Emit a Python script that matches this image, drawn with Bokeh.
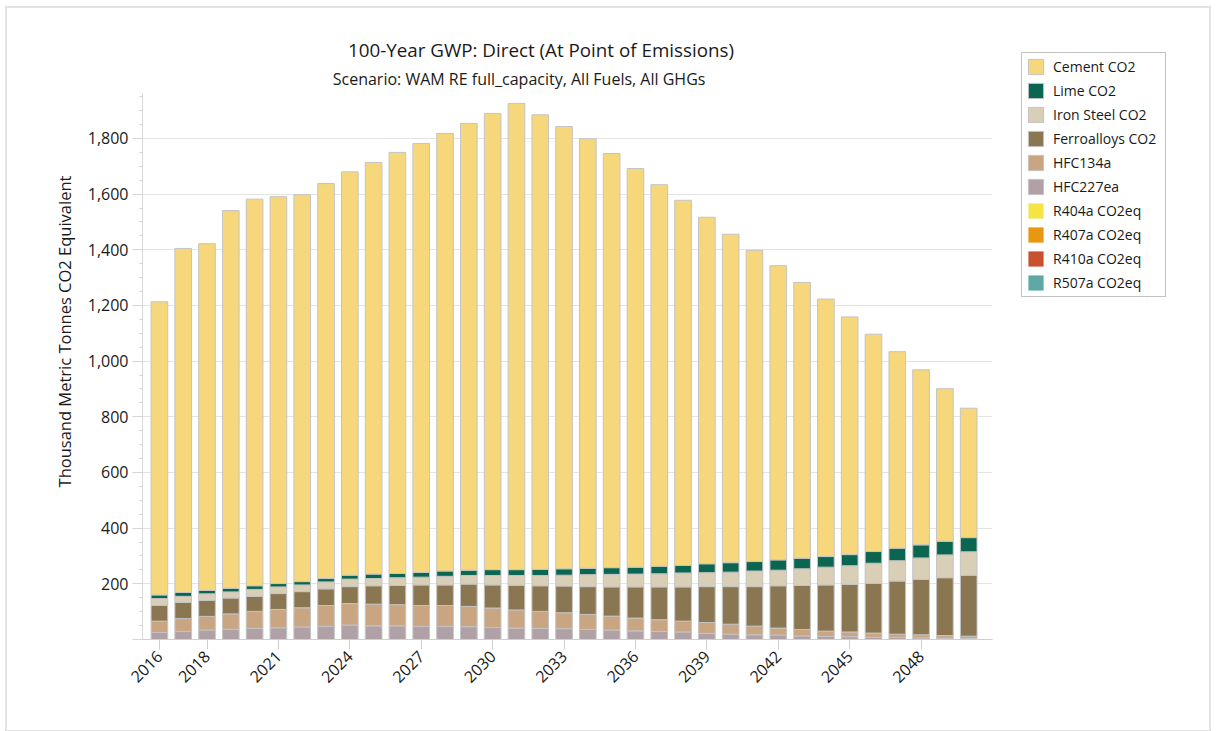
import math
from bokeh.plotting import figure
from bokeh.layouts import row
from bokeh.models import (ColumnDataSource, Range1d, FixedTicker, Legend, LegendItem,
                          Label, NumeralTickFormatter)
from bokeh.embed import file_html
from bokeh.resources import INLINE

# ---------------- data ----------------
years = list(range(2016, 2051))
hfc227ea = [25, 29, 34, 37, 40, 42, 45, 47, 52, 49, 49, 47, 47, 46, 43, 41, 40, 39,
            36, 34, 31, 29, 27, 22, 19, 17, 16, 13, 11, 10, 8, 7, 6, 5, 4]
hfc134a = [41, 46, 49, 55, 61, 66, 69, 75, 77, 78, 76, 75, 75, 73, 70, 65, 61, 57,
           54, 50, 46, 42, 39, 39, 36, 31, 25, 23, 19, 17, 15, 12, 11, 9, 8]
ferroalloys = [57, 58, 57, 57, 54, 57, 58, 60, 61, 66, 69, 74, 74, 80, 83, 89, 92, 96,
               100, 105, 112, 118, 123, 129, 135, 142, 152, 158, 166, 171, 179, 191, 199, 208, 219]
iron_steel = [24, 22, 24, 22, 25, 24, 24, 25, 27, 26, 28, 28, 31, 31, 34, 35, 37, 39,
              43, 45, 46, 47, 50, 50, 52, 56, 56, 60, 64, 67, 72, 73, 77, 82, 84]
lime = [13, 14, 12, 13, 13, 12, 12, 12, 14, 16, 15, 17, 19, 19, 21, 21, 22, 23,
        23, 24, 25, 27, 27, 32, 34, 34, 37, 38, 38, 40, 42, 45, 47, 49, 51]
cement = [1053, 1236, 1246, 1357, 1389, 1390, 1390, 1419, 1449, 1479, 1513, 1541, 1572,
          1605, 1639, 1675, 1633, 1589, 1543, 1488, 1432, 1371, 1312, 1245, 1180, 1118,
          1057, 991, 925, 854, 781, 706, 629, 548, 465]
r404a = [0] * 35
r407a = [0] * 35
r410a = [0] * 35
r507a = [0] * 35

x_tick_years = [2016, 2018, 2021, 2024, 2027, 2030, 2033, 2036, 2039, 2042, 2045, 2048]
y_ticks = [0, 200, 400, 600, 800, 1000, 1200, 1400, 1600, 1800]

series_names = ["Cement CO2", "Lime CO2", "Iron Steel CO2", "Ferroalloys CO2", "HFC134a",
                "HFC227ea", "R404a CO2eq", "R407a CO2eq", "R410a CO2eq", "R507a CO2eq"]
series_colors = ["#F6D77B", "#0B6651", "#D9CFB7", "#8A7751", "#C9A582",
                 "#AFA1A6", "#F4E445", "#E99610", "#C9512F", "#5FA8A3"]

title_text = "100-Year GWP: Direct (At Point of Emissions)"
subtitle_text = "Scenario: WAM RE full_capacity, All Fuels, All GHGs"
y_label_text = "Thousand Metric Tonnes CO2 Equivalent"

FONT = "Open Sans"
TXT = "#1a1a1a"

source = ColumnDataSource(dict(
    year=years, hfc227ea=hfc227ea, hfc134a=hfc134a, ferroalloys=ferroalloys,
    iron_steel=iron_steel, lime=lime, cement=cement,
    r404a=r404a, r407a=r407a, r410a=r410a, r507a=r507a))

stack_cols = ["hfc227ea", "hfc134a", "ferroalloys", "iron_steel", "lime", "cement"]
stack_colors = [series_colors[5], series_colors[4], series_colors[3], series_colors[2],
                series_colors[1], series_colors[0]]
zero_cols = ["r404a", "r407a", "r410a", "r507a"]

# ---------------- main chart ----------------
p = figure(width=1000, height=722, output_backend="svg", toolbar_location=None,
           x_range=Range1d(2015.29, 2051.0), y_range=Range1d(0, 2213),
           min_border_left=135, min_border_right=15, min_border_top=15,
           min_border_bottom=91)
p.outline_line_color = None

p.vbar_stack(stack_cols, x="year", width=0.7, source=source, color=stack_colors,
             line_color="#c4c4c4", line_width=1)

p.add_layout(Label(x=2032.03, y=2118, text=title_text, text_align="center",
                   text_baseline="middle", text_font=FONT, text_font_size="18.8px",
                   text_color=TXT))
p.add_layout(Label(x=2031.11, y=2013, text=subtitle_text, text_align="center",
                   text_baseline="middle", text_font=FONT, text_font_size="16px",
                   text_color=TXT))

p.xgrid.grid_line_color = None
p.ygrid.grid_line_color = "#e3e3e3"
p.ygrid.ticker = FixedTicker(ticks=y_ticks)

p.xaxis.ticker = FixedTicker(ticks=x_tick_years)
p.xaxis.major_label_orientation = math.pi / 4
p.xaxis.major_label_text_font = FONT
p.xaxis.major_label_text_font_size = "16px"
p.xaxis.major_label_text_color = TXT
p.xaxis.axis_line_color = "#cfcfcf"
p.xaxis.major_tick_line_color = "#cfcfcf"
p.xaxis.major_tick_out = 10
p.xaxis.major_tick_in = 0
p.xaxis.minor_tick_line_color = None
p.xaxis.major_label_standoff = 4

p.yaxis.bounds = (0, 1962)
p.yaxis.ticker = FixedTicker(ticks=y_ticks, minor_ticks=list(range(0, 1951, 50)))
p.yaxis.formatter = NumeralTickFormatter(format="0,0")
p.yaxis.major_label_overrides = {0: ""}
p.yaxis.major_label_text_font = FONT
p.yaxis.major_label_text_font_size = "16px"
p.yaxis.major_label_text_color = TXT
p.yaxis.axis_line_color = "#d6d6d6"
p.yaxis.major_tick_line_color = "#d6d6d6"
p.yaxis.minor_tick_line_color = "#d6d6d6"
p.yaxis.major_tick_out = 10
p.yaxis.major_tick_in = 0
p.yaxis.minor_tick_out = 3
p.yaxis.minor_tick_in = 0
p.yaxis.major_label_standoff = 4
p.yaxis.axis_label = y_label_text
p.yaxis.axis_label_text_font = FONT
p.yaxis.axis_label_text_font_size = "16.5px"
p.yaxis.axis_label_text_font_style = "normal"
p.yaxis.axis_label_text_color = TXT
p.yaxis.axis_label_standoff = 9

# ---------------- legend panel ----------------
q = figure(width=202, height=722, output_backend="svg", toolbar_location=None,
           x_range=Range1d(0, 1), y_range=Range1d(0, 1),
           x_axis_location=None, y_axis_location=None,
           min_border_left=0, min_border_right=0, min_border_top=0, min_border_bottom=0)
q.outline_line_color = None
q.xgrid.grid_line_color = None
q.ygrid.grid_line_color = None
rs = q.vbar_stack(stack_cols, x="year", width=0.7, source=source, color=stack_colors,
                  line_color="#c4c4c4", line_width=1)
zs = q.vbar_stack(zero_cols, x="year", width=0.7, source=source,
                  fill_color=series_colors[6:], line_color=None)

renderer_map = {
    "Cement CO2": rs[5], "Lime CO2": rs[4], "Iron Steel CO2": rs[3],
    "Ferroalloys CO2": rs[2], "HFC134a": rs[1], "HFC227ea": rs[0],
    "R404a CO2eq": zs[0], "R407a CO2eq": zs[1], "R410a CO2eq": zs[2], "R507a CO2eq": zs[3],
}
legend = Legend(items=[LegendItem(label=n, renderers=[renderer_map[n]]) for n in series_names],
                location=(14, 342), orientation="vertical")
legend.label_text_font = FONT
legend.label_text_font_size = "14px"
legend.label_text_color = TXT
legend.glyph_width = 19
legend.glyph_height = 19
legend.label_height = 19
legend.label_width = 108
legend.spacing = 5
legend.padding = 4
legend.margin = 0
legend.label_standoff = 8
legend.border_line_color = "#858585"
legend.border_line_width = 1.5
legend.background_fill_color = "white"
legend.background_fill_alpha = 1
q.add_layout(legend, "center")

layout = row(p, q, styles={"border": "2px solid #e2e2e2", "margin-left": "5px",
                           "margin-top": "6px"})

open("out.html", "w").write(file_html(layout, INLINE))
